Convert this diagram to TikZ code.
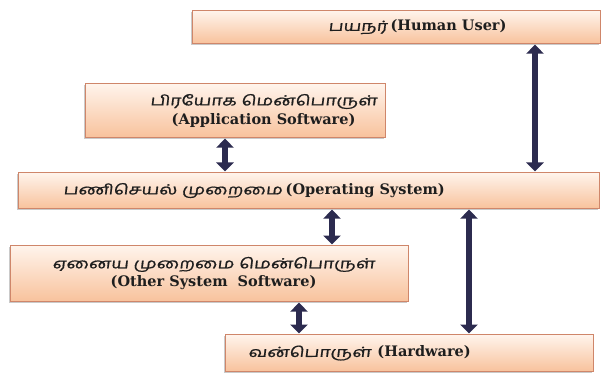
\documentclass[tikz,border=0pt]{standalone}
\usepackage{fontspec}
\setmainfont{DejaVu Serif}
\newfontfamily\ta[Script=Tamil,FakeStretch=1.35,FakeBold=1,FakeSlant=0.12]{Hind Madurai}
\usetikzlibrary{arrows.meta,shadows}
\definecolor{boxtop}{HTML}{FFF4EC}
\definecolor{boxbot}{HTML}{F8C29C}
\definecolor{boxline}{HTML}{CF866A}
\definecolor{arrowc}{HTML}{2C2B4F}
\definecolor{txt}{HTML}{1E1E1E}
\newcommand{\tam}[1]{{\fontsize{14}{17}\ta #1}}
\newcommand{\lat}[1]{{\fontsize{14.5}{17}\selectfont\bfseries #1}}
\tikzset{
  layerbox/.style={draw=boxline, line width=1.1pt, top color=boxtop, bottom color=boxbot,
    anchor=north west, inner sep=0pt,
    drop shadow={shadow xshift=-1.2pt, shadow yshift=-1.8pt, opacity=0.35, fill=black!60}},
  lbl/.style={text=txt, align=center, inner sep=0pt},
  dbl/.style={draw=arrowc, line width=5.5pt,
    {Triangle[width=17pt,length=9pt]}-{Triangle[width=17pt,length=9pt]}, shorten <=0.5pt, shorten >=0.5pt}
}
\begin{document}
\begin{tikzpicture}[x=1pt,y=-1pt]
\useasboundingbox (0,0) rectangle (602,374);
% boxes
\node[layerbox, minimum width=408pt, minimum height=33pt] (human) at (192,10) {};
\node[layerbox, minimum width=300pt, minimum height=54pt] (app) at (85,83) {};
\node[layerbox, minimum width=581pt, minimum height=36pt] (os) at (18,172) {};
\node[layerbox, minimum width=398pt, minimum height=56pt] (other) at (10,245) {};
\node[layerbox, minimum width=368pt, minimum height=37pt] (hw) at (225,334) {};
% texts
\node[lbl, anchor=west] (thuman) at ([xshift=136pt]human.west) {\tam{பயநர்} \lat{(Human User)}};
\node[lbl] (tapp) at ([xshift=28pt]app.center) {\tam{பிரயோக மென்பொருள்}\\[3pt]\lat{(Application Software)}};
\node[lbl, anchor=west] (tos) at ([xshift=45pt]os.west) {\tam{பணிசெயல் முறைமை} \lat{(Operating System)}};
\node[lbl] (tother) at ([xshift=4pt]other.center) {\tam{ஏனைய முறைமை மென்பொருள்}\\[3pt]\lat{(Other System\ \ Software)}};
\node[lbl, anchor=west] (thw) at ([xshift=23pt]hw.west) {\tam{வன்பொருள்}\ \ \lat{(Hardware)}};
% arrow positions
\coordinate (a1) at (535,0);
\coordinate (a2) at (225,0);
\coordinate (a3) at (332,0);
\coordinate (a4) at (469,0);
\coordinate (a5) at (299,0);
\draw[dbl] (a1 |- human.south) -- (a1 |- os.north);
\draw[dbl] (a2 |- app.south) -- (a2 |- os.north);
\draw[dbl] (a3 |- os.south) -- (a3 |- other.north);
\draw[dbl] (a4 |- os.south) -- (a4 |- hw.north);
\draw[dbl] (a5 |- other.south) -- (a5 |- hw.north);
\end{tikzpicture}
\end{document}
